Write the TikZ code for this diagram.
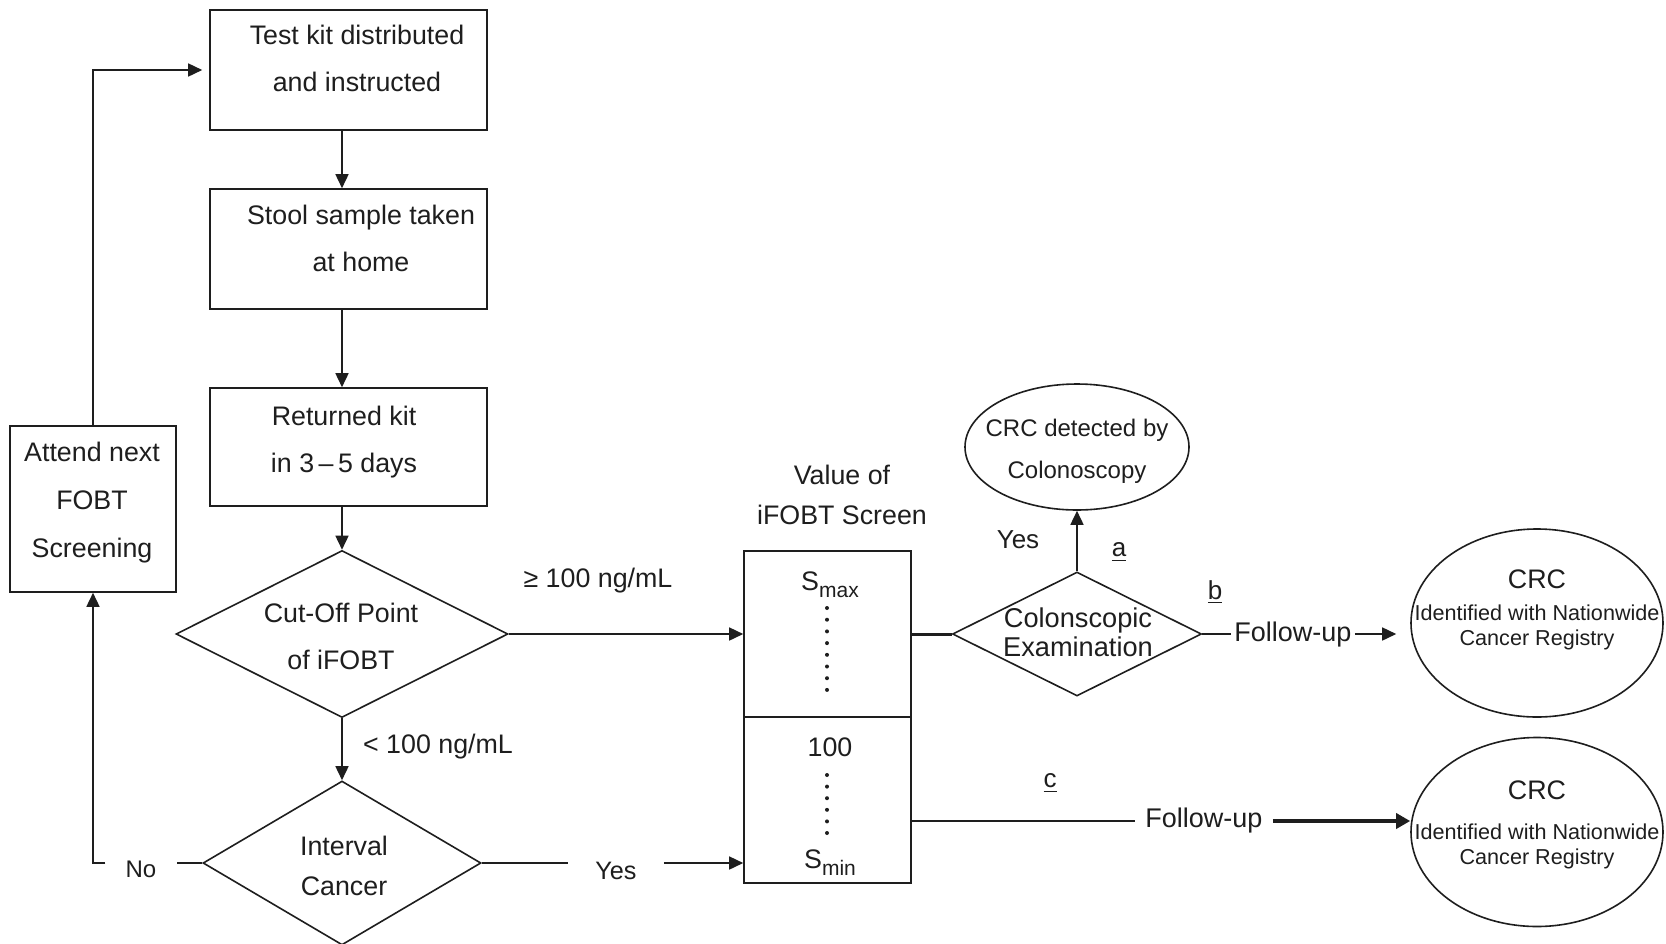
\documentclass[tikz,border=0pt]{standalone}
\usepackage{fontspec}
\setmainfont{Liberation Sans}
\usetikzlibrary{arrows.meta,shapes.geometric,calc}

\definecolor{ink}{RGB}{30,30,30}

\tikzset{
  line/.style={draw=ink, line width=0.8pt},
  arr/.style={line, -{Triangle[length=7pt,width=6.5pt]}},
  boxs/.style={draw=ink, line width=0.8pt, rectangle, inner sep=0pt},
  dia/.style={draw=ink, line width=0.8pt, diamond, inner sep=0pt},
  ell/.style={draw=ink, line width=0.8pt, ellipse, inner sep=0pt},
  txt/.style={text=ink, align=center, inner sep=0pt, font=\fontsize{13.4}{23.5}\selectfont},
  lbl/.style={text=ink, inner sep=0pt, font=\fontsize{13.4}{15}\selectfont},
  small/.style={text=ink, align=center, inner sep=0pt, font=\fontsize{10.8}{12.5}\selectfont},
}

\begin{document}
\begin{tikzpicture}[x=0.5pt,y=-0.5pt]
\fill[white] (0,0) rectangle (1666,943);
\useasboundingbox (0,0) rectangle (1666,943);

% ---- left column: boxes and decisions
\node[boxs, minimum width=138.5pt, minimum height=60pt] (kit) at (348.5,70) {};
\node[txt] (kitT) at (357,58) {Test kit distributed\\and instructed};

\node[boxs, minimum width=138.5pt, minimum height=60pt] (stool) at (348.5,249) {};
\node[txt] (stoolT) at (361,238) {Stool sample taken\\at home};

\node[boxs, minimum width=138.5pt, minimum height=59pt] (ret) at (348.5,447) {};
\node[txt] (retT) at (344,442) {Returned kit\\in 3\,–\,5 days};

\node[boxs, minimum width=83pt, minimum height=83pt] (attend) at (93,509) {};
\node[txt, font=\fontsize{13.4}{24}\selectfont] (attendT) at (92,503) {Attend next\\FOBT\\Screening};

\node[dia, minimum width=166pt, minimum height=83.5pt] (cut) at (342,634) {};
\node[txt] (cutT) at (341,636) {Cut-Off Point\\of iFOBT};

\node[dia, minimum width=139pt, minimum height=82pt] (int) at (342,863) {};
\node[txt, font=\fontsize{13.4}{20}\selectfont] (intT) at (344,866) {Interval\\Cancer};

% ---- iFOBT value scale
\node[txt, font=\fontsize{13.4}{20}\selectfont] (valT) at (842,495) {Value of\\iFOBT Screen};
\node[boxs, minimum width=83.5pt, minimum height=166pt] (fob) at (827.5,717) {};
\draw[line] (fob.west) -- (fob.east);
\node[txt] (smax) at (830,585) {S\raisebox{-0.5ex}{\fontsize{10.5}{12}\selectfont max}};
\foreach \i in {0,...,7} \fill[ink] (827,{608+11.7*\i}) circle[radius=1pt];
\node[txt] (hundred) at (830,747) {100};
\foreach \i in {0,...,5} \fill[ink] (827,{775+11.6*\i}) circle[radius=1pt];
\node[txt] (smin) at (830,863) {S\raisebox{-0.5ex}{\fontsize{10.5}{12}\selectfont min}};

% ---- colonoscopy branch
\node[dia, minimum width=124.5pt, minimum height=62pt] (colon) at (1077,634) {};
\node[txt, font=\fontsize{13.6}{14.5}\selectfont] (colonT) at (1078,632) {Colonscopic\\Examination};

\node[ell, minimum width=112pt, minimum height=63pt] (det) at (1077,447) {};
\node[txt, font=\fontsize{12}{21}\selectfont] (detT) at (1077,451) {CRC detected by\\Colonoscopy};

\node[ell, minimum width=126pt, minimum height=94pt] (crc1) at (1537,623) {};
\node[txt] (crc1a) at (1537,579) {CRC};
\node[small] (crc1b) at (1537,627) {Identified with Nationwide\\Cancer Registry};

\node[ell, minimum width=126pt, minimum height=94.5pt] (crc2) at (1537,832) {};
\node[txt] (crc2a) at (1537,790) {CRC};
\node[small] (crc2b) at (1537,846) {Identified with Nationwide\\Cancer Registry};

% ---- labels on connectors
\node[lbl] (lt) at (438,747) {< 100 ng/mL};
\node[lbl] (ge) at (598,581) {≥ 100 ng/mL};
\node[lbl, font=\fontsize{12}{14}\selectfont, inner xsep=10pt] (no) at (141,869) {No};
\node[lbl, font=\fontsize{12.6}{14}\selectfont, inner xsep=13.5pt] (yes) at (616,871) {Yes};
\node[lbl, font=\fontsize{13}{14}\selectfont] (yes2) at (1018,540) {Yes};
\node[lbl, font=\fontsize{13}{14}\selectfont] (la) at (1119,552) {\underline{a}};
\node[lbl, font=\fontsize{13}{14}\selectfont] (lb) at (1215,592) {\underline{b}};
\node[lbl, font=\fontsize{13}{14}\selectfont] (lc) at (1050,783) {\underline{c}};
\node[txt, font=\fontsize{13.5}{15}\selectfont, inner xsep=1.5pt] (fu1) at (1293,635) {Follow-up};
\node[txt, font=\fontsize{13.5}{15}\selectfont, inner xsep=5pt] (fu2) at (1204,821) {Follow-up};

% ---- connectors
\draw[arr] (kit.south -| cut) -- (stool.north -| cut);
\draw[arr] (stool.south -| cut) -- (ret.north -| cut);
\draw[arr] (ret.south -| cut) -- (cut.north);
\draw[arr] (cut.south) -- (int.north);
\draw[arr] (cut.east) -- (cut.east -| fob.west);

\draw[line] (int.west) -- (int.west -| no.east);
\draw[arr] (int.west -| no.west) -- (int.west -| attend.south) -- (attend.south);
\draw[arr, shorten >=3.5pt] (attend.north) |- (kit.west);

\draw[line] (int.east) -- (int.east -| yes.west);
\draw[arr] (int.east -| yes.east) -- (int.east -| fob.west);

\draw[line, line width=1.5pt] (fob.east |- colon.west) -- (colon.west);
\draw[arr] (colon.north) -- (det.south);

\draw[line] (colon.east) -- (colon.east -| fu1.west);
\draw[arr, shorten >=7pt] (colon.east -| fu1.east) -- (colon.east -| crc1.west);

\draw[line] (fob.east |- fu2.west) -- (fu2.west);
\draw[line, line width=1.7pt, -{Triangle[length=7pt,width=7.5pt]}] (fu2.east) -- (fu2.east -| crc2.west);
\end{tikzpicture}
\end{document}
